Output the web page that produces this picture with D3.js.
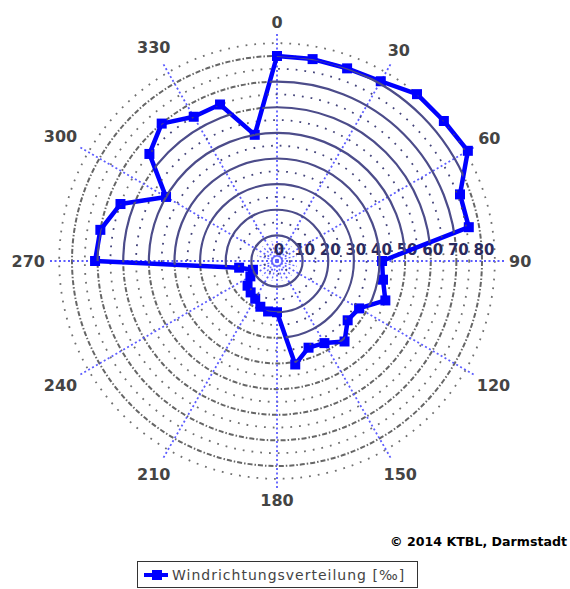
<!DOCTYPE html>
<html>
<head>
<meta charset="utf-8">
<script src="https://cdn.jsdelivr.net/npm/d3@7"></script>
<style>
  html, body { margin: 0; padding: 0; background: #fff; }
  svg { display: block; }
</style>
</head>
<body>
<svg id="chart" width="570" height="589"></svg>
<script>
// ---- data ----
const directions = [0,10,20,30,40,50,60,70,80,90,100,110,120,130,140,150,160,170,
                    180,190,200,210,220,230,240,250,260,270,280,290,300,310,320,330,340,350];
const values = [80,80,80,81,85,85,86,76,76,41,42,45,37,36,41,37,36,41,
                20,20,19,17,16,15,12,10,15,71,70,65,50,65,70,65,65,50];
const angleTicks = [0,30,60,90,120,150,180,210,240,270,300,330];
const radialTicks = [0,10,20,30,40,50,60,70,80];
const minorTicks = [5,15,25,35,45,55,65,75,85];
const seriesName = "Windrichtungsverteilung [‰]";
const credit = "© 2014 KTBL, Darmstadt";

// ---- layout ----
const cx = 277, cy = 261;
const svg = d3.select("#chart");
const r = d3.scaleLinear().domain([0, 80]).range([0, 205]);
const rad = d => d * Math.PI / 180;
const data = directions.map((a, i) => ({ angle: a, value: values[i] }));

const g = svg.append("g").attr("transform", `translate(${cx},${cy})`);

const polyLine = d3.lineRadial()
  .angle(d => rad(d.angle))
  .radius(d => r(d.value))
  .curve(d3.curveLinearClosed);

svg.append("defs").append("clipPath").attr("id", "inside")
  .append("path").attr("transform", `translate(${cx},${cy})`).attr("d", polyLine(data));

// outer grid
const outer = g.append("g");
outer.selectAll("circle.min").data(minorTicks).join("circle")
  .attr("r", d => r(d)).attr("fill", "none")
  .attr("stroke", "#707070").attr("stroke-width", 1.8).attr("stroke-dasharray", "1.8,7");
outer.selectAll("circle.maj").data(radialTicks.slice(1)).join("circle")
  .attr("r", d => r(d)).attr("fill", "none")
  .attr("stroke", "#666").attr("stroke-width", 2).attr("stroke-dasharray", "5,2,1.5,2");

// polygon white fill
g.append("path").attr("d", polyLine(data)).attr("fill", "#fff");

// inner grid clipped to polygon
const inner = svg.append("g").attr("clip-path", "url(#inside)")
  .append("g").attr("transform", `translate(${cx},${cy})`);
inner.selectAll("circle.min").data(minorTicks).join("circle")
  .attr("r", d => r(d)).attr("fill", "none")
  .attr("stroke", "#44447a").attr("stroke-width", 1.8).attr("stroke-dasharray", "1.8,7");
inner.selectAll("circle.maj").data(radialTicks.slice(1)).join("circle")
  .attr("r", d => r(d)).attr("fill", "none")
  .attr("stroke", "#4c4c8a").attr("stroke-width", 2.2);

// short spokes near the centre
const fine = d3.range(0, 360, 15).filter(a => a % 30 !== 0);
g.selectAll("line.fine").data(fine).join("line")
  .attr("x1", 0).attr("y1", 0)
  .attr("x2", d => d3.pointRadial(rad(d), r(8))[0])
  .attr("y2", d => d3.pointRadial(rad(d), r(8))[1])
  .attr("stroke", "#6a6aff").attr("stroke-width", 1.4).attr("stroke-dasharray", "2,2");

// main spokes
g.selectAll("line.spoke").data(angleTicks).join("line")
  .attr("x1", 0).attr("y1", 0)
  .attr("x2", d => d3.pointRadial(rad(d), 229)[0])
  .attr("y2", d => d3.pointRadial(rad(d), 229)[1])
  .attr("stroke", "#5c5cff").attr("stroke-width", 1.8).attr("stroke-dasharray", "2,2.5");

// radial labels along 90° axis
g.selectAll("text.rl").data(radialTicks).join("text")
  .attr("x", d => r(d) + 2).attr("y", -6)
  .attr("text-anchor", "middle")
  .attr("font-family", "DejaVu Sans, sans-serif").attr("font-size", 15)
  .attr("font-weight", "bold")
  .attr("fill", "#2a2a5e")
  .text(d => d);

// data line
g.append("path").attr("d", polyLine(data))
  .attr("fill", "none").attr("stroke", "#0000ff").attr("stroke-width", 4.5)
  .attr("stroke-linejoin", "round");
g.selectAll("rect.mk").data(data).join("rect")
  .attr("x", d => d3.pointRadial(rad(d.angle), r(d.value))[0] - 5)
  .attr("y", d => d3.pointRadial(rad(d.angle), r(d.value))[1] - 5)
  .attr("width", 10).attr("height", 10).attr("fill", "#0000ff");

// angle labels
const al = g.selectAll("text.al").data(angleTicks).join("text")
  .attr("font-family", "DejaVu Sans, sans-serif").attr("font-size", 16)
  .attr("font-weight", "bold")
  .attr("fill", "#444").attr("text-anchor", "middle")
  .attr("dominant-baseline", "central")
  .text(d => d);
al.each(function(d) {
  const w = this.getComputedTextLength() / 2;
  const h = 7;
  const a = rad(d);
  const rr = 232 + Math.abs(Math.sin(a)) * w + Math.abs(Math.cos(a)) * h;
  const p = d3.pointRadial(a, rr);
  d3.select(this).attr("x", p[0]).attr("y", p[1]);
});

// credit
svg.append("text").attr("x", 567).attr("y", 546).attr("text-anchor", "end")
  .attr("font-family", "DejaVu Sans, sans-serif").attr("font-weight", "bold")
  .attr("font-size", 12).attr("fill", "#000")
  .attr("textLength", 177).attr("lengthAdjust", "spacingAndGlyphs")
  .text(credit);

// legend
const lg = svg.append("g");
lg.append("rect").attr("x", 137.5).attr("y", 561.5).attr("width", 280).attr("height", 26)
  .attr("fill", "#fff").attr("stroke", "#333").attr("stroke-width", 1);
lg.append("line").attr("x1", 144).attr("x2", 168).attr("y1", 575).attr("y2", 575)
  .attr("stroke", "#0000ff").attr("stroke-width", 4);
lg.append("rect").attr("x", 152).attr("y", 570).attr("width", 10).attr("height", 10).attr("fill", "#0000ff");
lg.append("text").attr("x", 172).attr("y", 580)
  .attr("font-family", "DejaVu Sans, sans-serif").attr("font-size", 14).attr("fill", "#444")
  .attr("letter-spacing", 1)
  .text(seriesName);
</script>
</body>
</html>
